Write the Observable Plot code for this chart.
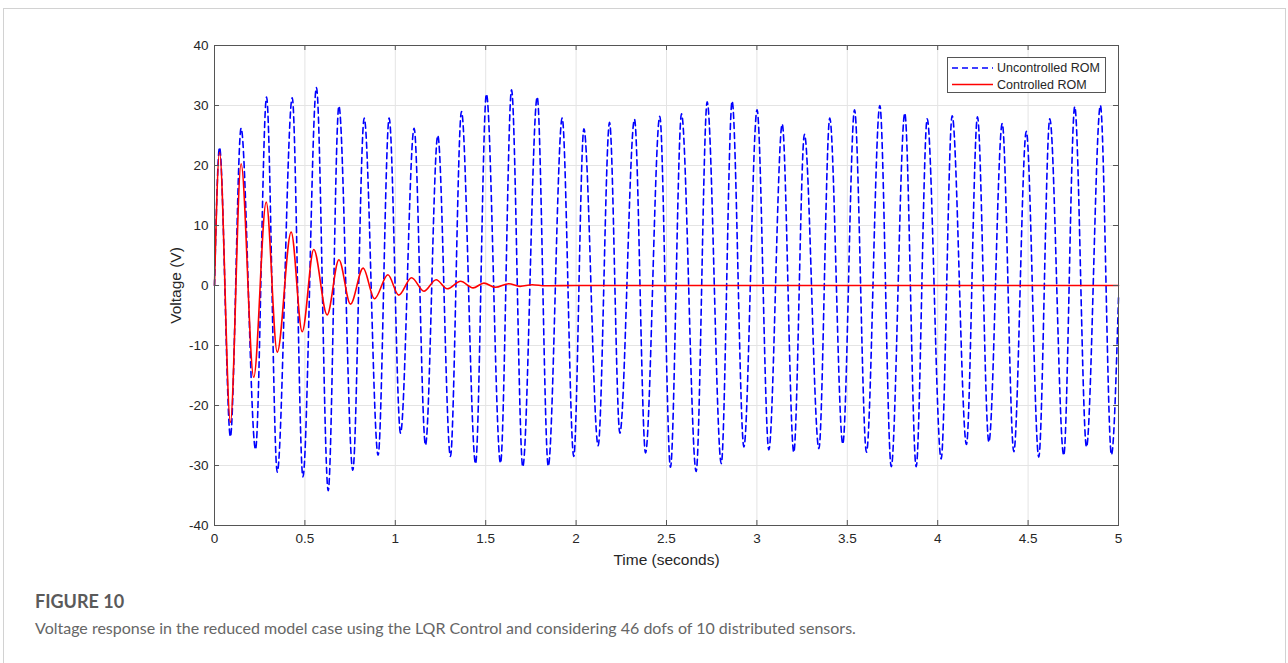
<!DOCTYPE html>
<html>
<head>
<meta charset="utf-8">
<script src="https://cdn.jsdelivr.net/npm/d3@7"></script>
<script src="https://cdn.jsdelivr.net/npm/@observablehq/plot@0.6"></script>
<style>
  html, body { margin: 0; padding: 0; background: #fff; }
  body { width: 1288px; height: 663px; position: relative; overflow: hidden; }
  #frame { position: absolute; left: 3px; top: 8px; width: 1283px; height: 700px; border: 1px solid #d2d2d2; box-sizing: border-box; }
  #chart { position: absolute; left: 0; top: 0; }
  #legend { position: absolute; left: 947px; top: 57px; width: 159px; height: 36px; border: 1px solid #555; background: #fff; box-sizing: border-box; }
  #fig { position: absolute; left: 35px; top: 592px; font-family: Lato, "Open Sans", sans-serif; font-weight: 700; font-size: 18px; line-height: 1; color: #5a5a5a; }
  #cap { position: absolute; left: 35px; top: 620px; font-family: Lato, "Open Sans", sans-serif; font-size: 16px; line-height: 1; color: #666; white-space: nowrap; }
</style>
</head>
<body>
<div id="frame"></div>
<div id="chart"></div>
<div id="legend"></div>
<div id="fig">FIGURE 10</div>
<div id="cap">Voltage response in the reduced model case using the LQR Control and considering 46 dofs of 10 distributed sensors.</div>
<script>
// Uncontrolled ROM: extrema (time s, voltage V)
const uncontrolledT = [0, 0.028, 0.088, 0.147, 0.227, 0.288, 0.347, 0.430, 0.489, 0.564, 0.629, 0.688, 0.765, 0.828, 0.905, 0.966, 1.029, 1.104, 1.167, 1.235, 1.305, 1.366, 1.444, 1.504, 1.582, 1.643, 1.705, 1.785, 1.846, 1.923, 1.987, 2.043, 2.122, 2.185, 2.242, 2.323, 2.384, 2.463, 2.522, 2.583, 2.664, 2.725, 2.803, 2.863, 2.928, 3.001, 3.066, 3.140, 3.204, 3.263, 3.343, 3.403, 3.475, 3.540, 3.606, 3.680, 3.743, 3.818, 3.881, 3.942, 4.019, 4.080, 4.159, 4.220, 4.283, 4.357, 4.421, 4.490, 4.559, 4.620, 4.697, 4.758, 4.823, 4.900, 4.961, 5.000];
const uncontrolledV = [0, 23.0, -25.2, 26.2, -27.3, 31.4, -31.1, 31.3, -31.9, 33.0, -34.2, 29.9, -30.8, 27.9, -28.3, 27.9, -24.6, 26.2, -26.6, 25.0, -28.5, 29.0, -29.7, 31.9, -29.6, 32.6, -30.2, 31.4, -30.1, 27.9, -28.5, 26.1, -26.7, 27.2, -24.6, 27.7, -27.9, 28.2, -30.3, 28.6, -31.0, 30.6, -29.7, 30.7, -26.9, 29.3, -27.4, 26.9, -27.8, 25.2, -27.2, 27.9, -26.4, 29.3, -27.8, 30.0, -30.2, 28.7, -30.2, 27.8, -28.9, 28.3, -26.5, 28.1, -26.1, 27.0, -27.7, 25.7, -28.6, 27.8, -28.3, 29.8, -26.9, 30.0, -28.2, -2.0];

// Controlled ROM: extrema
const controlledT = [0, 0.028, 0.088, 0.147, 0.217, 0.286, 0.347, 0.424, 0.485, 0.549, 0.623, 0.688, 0.752, 0.822, 0.885, 0.959, 1.019, 1.090, 1.158, 1.226, 1.287, 1.361, 1.430, 1.490, 1.554, 1.627, 1.690, 1.757, 1.830, 2.000, 5.000];
const controlledV = [0, 22.2, -22.8, 20.3, -15.3, 13.9, -11.1, 8.9, -7.7, 6.0, -4.9, 4.3, -3.1, 2.9, -2.2, 1.8, -1.6, 1.3, -0.95, 0.95, -0.55, 0.7, -0.4, 0.4, -0.3, 0.3, -0.15, 0.12, -0.05, 0, 0];

const xTicks = [0, 0.5, 1, 1.5, 2, 2.5, 3, 3.5, 4, 4.5, 5];
const yTicks = [-40, -30, -20, -10, 0, 10, 20, 30, 40];
const seriesNames = ["Uncontrolled ROM", "Controlled ROM"];
const xLabel = "Time (seconds)";
const yLabel = "Voltage (V)";

const uncontrolled = uncontrolledT.map((t, i) => ({t, v: uncontrolledV[i]}));
const controlled = controlledT.map((t, i) => ({t, v: controlledV[i]}));

const axisColor = "#555";
const textColor = "#262626";
const tickFont = "Liberation Sans, Arial, sans-serif";

const chart = Plot.plot({
  width: 1288,
  height: 580,
  marginLeft: 214,
  marginRight: 170,
  marginTop: 45,
  marginBottom: 55,
  style: {fontFamily: tickFont, fontSize: "13.3px", color: textColor, background: "transparent"},
  x: {domain: [0, 5], ticks: xTicks, axis: null},
  y: {domain: [-40, 40], ticks: yTicks, axis: null},
  marks: [
    Plot.gridX(xTicks, {stroke: "#e4e4e4", strokeOpacity: 1}),
    Plot.gridY(yTicks, {stroke: "#e4e4e4", strokeOpacity: 1}),
    Plot.line(uncontrolled, {x: "t", y: "v", stroke: "#0000ff", strokeWidth: 1.6, strokeDasharray: "6,4", curve: "monotone-x"}),
    Plot.line(controlled, {x: "t", y: "v", stroke: "#ff0000", strokeWidth: 1.6, curve: "monotone-x"}),
    Plot.frame({stroke: axisColor}),
    Plot.tickX(xTicks, {x: d => d, stroke: axisColor, insetTop: 475}),
    Plot.tickX(xTicks, {x: d => d, stroke: axisColor, insetBottom: 475}),
    Plot.tickY(yTicks, {y: d => d, stroke: axisColor, insetRight: 899}),
    Plot.tickY(yTicks, {y: d => d, stroke: axisColor, insetLeft: 899}),
    Plot.text(xTicks, {x: d => d, frameAnchor: "bottom", dy: 8, lineAnchor: "top", text: d => String(d), fontSize: 13.5, fill: textColor}),
    Plot.text(yTicks, {y: d => d, frameAnchor: "left", dx: -6, textAnchor: "end", text: d => String(d), fontSize: 13.5, fill: textColor}),
    Plot.text([xLabel], {frameAnchor: "bottom", dy: 28, lineAnchor: "top", text: d => d, fontSize: 15.5, fill: textColor}),
    Plot.text([yLabel], {frameAnchor: "left", dx: -38, rotate: -90, textAnchor: "middle", text: d => d, fontSize: 15.5, fill: textColor})
  ]
});
document.getElementById("chart").appendChild(chart);

// legend
const ns = "http://www.w3.org/2000/svg";
const lg = document.createElementNS(ns, "svg");
lg.setAttribute("width", 157);
lg.setAttribute("height", 34);
lg.style.display = "block";
const styles = [{stroke: "#0000ff", dash: "6,4"}, {stroke: "#ff0000", dash: null}];
seriesNames.forEach((name, i) => {
  const y = 10 + i * 16.5;
  const ln = document.createElementNS(ns, "line");
  ln.setAttribute("x1", 4); ln.setAttribute("x2", 45);
  ln.setAttribute("y1", y); ln.setAttribute("y2", y);
  ln.setAttribute("stroke", styles[i].stroke);
  ln.setAttribute("stroke-width", 1.6);
  if (styles[i].dash) ln.setAttribute("stroke-dasharray", styles[i].dash);
  lg.appendChild(ln);
  const tx = document.createElementNS(ns, "text");
  tx.setAttribute("x", 49); tx.setAttribute("y", y);
  tx.setAttribute("dy", "0.35em");
  tx.setAttribute("font-family", tickFont);
  tx.setAttribute("font-size", 12.5);
  tx.setAttribute("fill", textColor);
  tx.textContent = name;
  lg.appendChild(tx);
});
document.getElementById("legend").appendChild(lg);
</script>
</body>
</html>
